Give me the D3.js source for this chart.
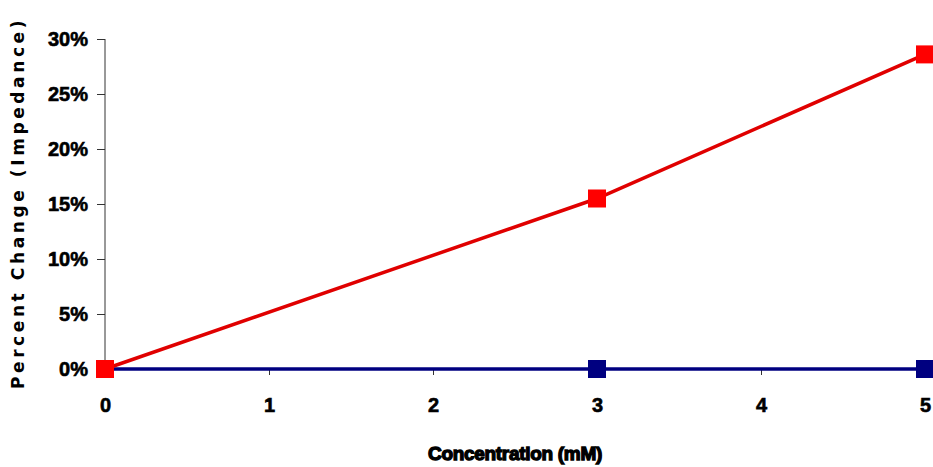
<!DOCTYPE html>
<html>
<head>
<meta charset="utf-8">
<script src="https://cdn.jsdelivr.net/npm/d3@7"></script>
<style>
  body { margin: 0; background: #fff; }
  .axis text { font-family: "Liberation Sans", Arial, sans-serif; font-weight: bold; font-size: 20px; fill: #000; stroke: #000; stroke-width: 0.6px; }
  .axis path, .axis line { stroke: #333; }
</style>
</head>
<body>
<svg class="svg1" width="933" height="467"></svg>
<script>
var concentrations = [0, 3, 5];
var redValues = [0, 0.155, 0.286];
var blueValues = [0, 0, 0];
var xTicks = [0, 1, 2, 3, 4, 5];
var yTicks = [0, 0.05, 0.10, 0.15, 0.20, 0.25, 0.30];

var svg = d3.select(".svg1"),
    margin = {top: 39, right: 8, bottom: 98, left: 105},
    width = svg.attr("width") - margin.left - margin.right,
    height = svg.attr("height") - margin.top - margin.bottom;

var x = d3.scaleLinear().domain([0, 5]).range([0, width]),
    y = d3.scaleLinear().domain([0, 0.30]).range([height, 0]);

var g = svg.append("g").attr("transform", "translate(" + margin.left + "," + margin.top + ")");

g.append("g")
    .attr("class", "axis axis--y")
    .call(d3.axisLeft(y).tickValues(yTicks).tickSize(8).tickPadding(9).tickFormat(d3.format(".0%")))
    .call(function(a) { a.select(".domain").attr("d", "M0," + y(0.30) + "V" + height); });

g.append("g")
    .attr("class", "axis axis--x")
    .attr("transform", "translate(0," + height + ")")
    .call(d3.axisBottom(x).tickValues(xTicks).tickSize(6).tickPadding(23).tickFormat(d3.format("d")));

var line = d3.line()
    .x(function(d) { return x(d.c); })
    .y(function(d) { return y(d.v); });

var series = [
  {id: "blue", color: "#000080", fill: "#000080", values: blueValues},
  {id: "red", color: "#e00000", fill: "#ff0000", values: redValues}
];

series.forEach(function(s) {
  var pts = concentrations.map(function(c, i) { return {c: c, v: s.values[i]}; });
  g.append("path")
      .datum(pts)
      .attr("fill", "none")
      .attr("stroke", s.color)
      .attr("stroke-width", 3.5)
      .attr("d", line);
  g.append("g").selectAll("rect")
      .data(pts)
      .enter().append("rect")
      .attr("x", function(d) { return x(d.c) - 9; })
      .attr("y", function(d) { return y(d.v) - 9; })
      .attr("width", 18)
      .attr("height", 18)
      .attr("fill", s.fill);
});

svg.append("text")
    .attr("transform", "translate(24," + (margin.top + height / 2 - 1) + ") rotate(-90)")
    .attr("text-anchor", "middle")
    .style("font-family", "'DejaVu Sans', sans-serif")
    .style("font-weight", "bold")
    .style("font-size", "17px")
    .style("letter-spacing", "3.6px")
    .text("Percent Change (Impedance)");

svg.append("text")
    .attr("x", 515)
    .attr("y", 460)
    .attr("text-anchor", "middle")
    .style("font-family", "'Liberation Sans', Arial, sans-serif")
    .style("font-weight", "bold")
    .style("font-size", "19px")
    .style("stroke", "#000")
    .style("stroke-width", "1.3px")
    .style("letter-spacing", "-0.3px")
    .text("Concentration (mM)");
</script>
</body>
</html>
